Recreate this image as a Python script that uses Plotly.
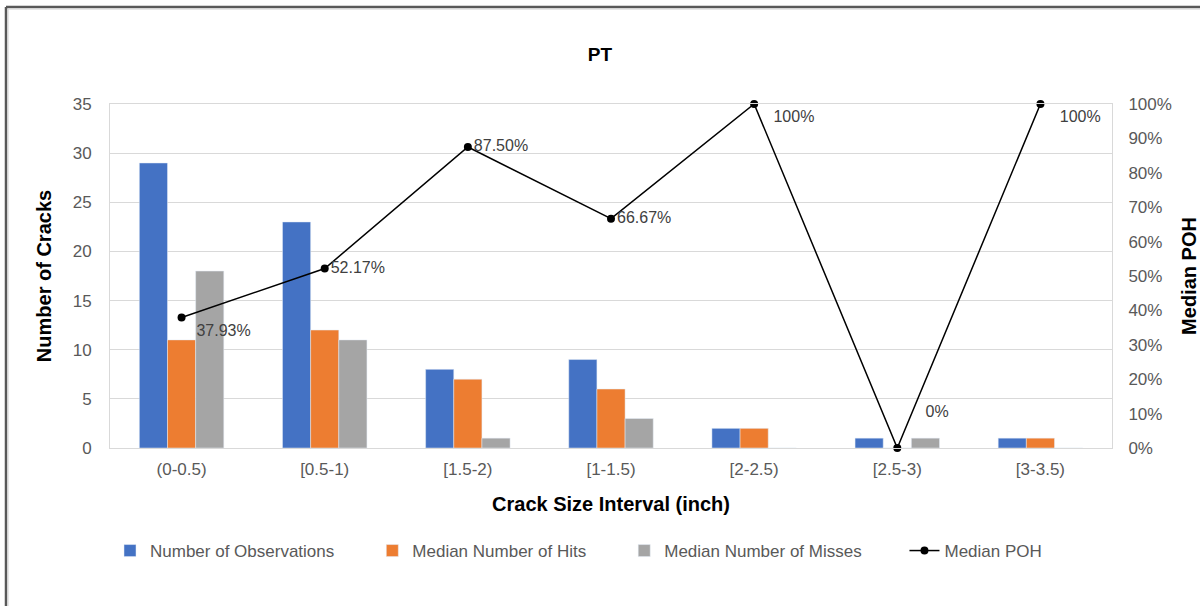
import plotly.graph_objects as go

categories = ["(0-0.5)", "[0.5-1)", "[1.5-2)", "[1-1.5)", "[2-2.5)", "[2.5-3)", "[3-3.5)"]
observations = [29, 23, 8, 9, 2, 1, 1]
hits = [11, 12, 7, 6, 2, 0, 1]
misses = [18, 11, 1, 3, 0, 1, 0]
poh = [0.3793, 0.5217, 0.875, 0.6667, 1.0, 0.0, 1.0]
poh_labels = ["37.93%", "52.17%", "87.50%", "66.67%", "100%", "0%", "100%"]
series_names = ["Number of Observations", "Median Number of Hits",
                "Median Number of Misses", "Median POH"]

# label / legend spacing (styling, not data)
poh_textpos = ["bottom right", "middle right", "middle right", "middle right",
               "bottom right", "top right", "bottom right"]
nb = "\u00a0"
poh_display = [nb * 2 + poh_labels[0], poh_labels[1], poh_labels[2], poh_labels[3],
               nb * 3 + poh_labels[4], nb * 5 + poh_labels[5] + "<br> ", nb * 3 + poh_labels[6]]
legend_pad = [7, 7, 8, 0]
legend_names = [n + nb * p for n, p in zip(series_names, legend_pad)]

font = "Liberation Sans, Arial, sans-serif"
tick_color = "#595959"

# plot-area geometry in pixels (for border shapes)
L, R, T, B, W, H = 110, 88, 104, 158, 1200, 606
pw, ph = W - L - R, H - T - B
def px(x):
    return (x - L) / pw
def py(y):
    return (H - B - y) / ph

fig = go.Figure()
fig.add_trace(go.Bar(x=categories, y=observations, name=legend_names[0],
                     marker=dict(color="#4472C4")))
fig.add_trace(go.Bar(x=categories, y=hits, name=legend_names[1],
                     marker=dict(color="#ED7D31")))
fig.add_trace(go.Bar(x=categories, y=misses, name=legend_names[2],
                     marker=dict(color="#A5A5A5")))
fig.add_trace(go.Scatter(x=categories, y=poh, name=legend_names[3], yaxis="y2",
                         mode="lines+markers+text", text=poh_display,
                         textposition=poh_textpos, cliponaxis=False,
                         textfont=dict(size=16, color="#404040", family=font),
                         line=dict(color="black", width=1.5),
                         marker=dict(color="black", size=8)))

fig.update_layout(
    width=W, height=H,
    paper_bgcolor="white", plot_bgcolor="white",
    margin=dict(l=L, r=R, t=T, b=B),
    font=dict(family=font, size=17, color=tick_color),
    title=dict(text="<b>PT</b>", x=0.5, xanchor="center", y=0.911, yanchor="middle",
               font=dict(size=19, color="black", family=font)),
    barmode="group", bargap=0.41, bargroupgap=0,
    xaxis=dict(showline=True, linecolor="#D9D9D9", linewidth=1, mirror=True,
               ticks="", tickfont=dict(size=17, color=tick_color), ticklabelstandoff=6,
               title=dict(text="<b>Crack Size Interval (inch)</b>",
                          font=dict(size=20, color="black", family=font), standoff=18)),
    yaxis=dict(range=[0, 35], dtick=5, showgrid=True, gridcolor="#D9D9D9",
               showline=True, linecolor="#D9D9D9", zeroline=False,
               tickfont=dict(size=17, color=tick_color), ticklabelstandoff=14,
               title=dict(text="<b>Number of Cracks</b>",
                          font=dict(size=20, color="black", family=font), standoff=15)),
    yaxis2=dict(range=[0, 1], dtick=0.1, tickformat=".0%", overlaying="y", side="right",
                showgrid=False, showline=True, linecolor="#D9D9D9", zeroline=False,
                tickfont=dict(size=17, color=tick_color), ticklabelstandoff=12,
                automargin=False,
                title=dict(text="<b>Median POH</b>",
                           font=dict(size=20, color="black", family=font), standoff=14)),
    legend=dict(orientation="h", x=px(110), xanchor="left", y=py(551), yanchor="middle",
                font=dict(size=17, color=tick_color), traceorder="normal",
                itemwidth=30),
    shapes=[
        dict(type="line", xref="paper", yref="paper", x0=px(6), x1=px(1205),
             y0=py(7), y1=py(7), line=dict(color="#595959", width=2.5), layer="below"),
        dict(type="line", xref="paper", yref="paper", x0=px(6), x1=px(6),
             y0=py(7), y1=py(610), line=dict(color="#595959", width=2.5), layer="below"),
        dict(type="line", xref="paper", yref="paper", x0=px(8), x1=px(1205),
             y0=py(9), y1=py(9), line=dict(color="#D0D0D0", width=1), layer="below"),
        dict(type="line", xref="paper", yref="paper", x0=px(8), x1=px(8),
             y0=py(9), y1=py(610), line=dict(color="#D0D0D0", width=1), layer="below"),
    ],
)

fig.write_html("out.html", post_script="document.body.style.margin='0';",
               config={"displayModeBar": False})
